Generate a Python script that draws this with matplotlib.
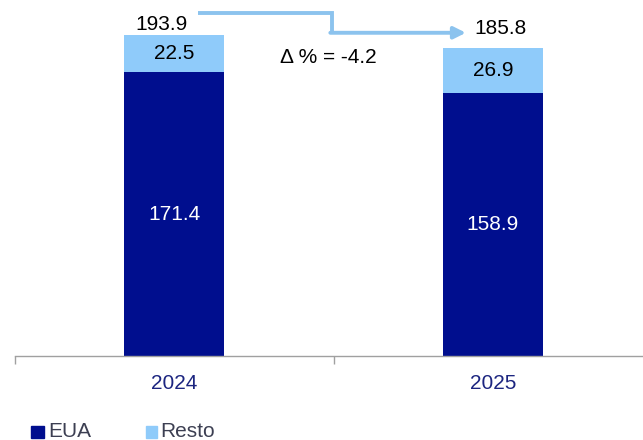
import matplotlib
matplotlib.use("Agg")
import matplotlib.pyplot as plt
from matplotlib.patches import Rectangle

years = ["2024", "2025"]
eua = [171.4, 158.9]
resto = [22.5, 26.9]
totals = [193.9, 185.8]
delta_label = "Δ % = -4.2"
series_names = ["EUA", "Resto"]

C_EUA = "#000E8E"
C_RESTO = "#8FCBFA"
C_ARROW = "#8CC3EE"
C_TICK = "#1C2580"
C_LEG = "#3C3F52"
FS = 15

plt.rcParams["font.family"] = ["Liberation Sans", "DejaVu Sans"]

W, H = 643, 440
fig = plt.figure(figsize=(W / 100, H / 100), dpi=100)
ax = fig.add_axes([14.5 / W, 84 / H, 638 / W, 356 / H])
ax.set_xlim(-0.5, 1.5)
ax.set_ylim(0, 215)

x = list(range(len(years)))
w = 0.313
ax.bar(x, eua, width=w, color=C_EUA)
ax.bar(x, resto, width=w, bottom=eua, color=C_RESTO)

for xi, e, r in zip(x, eua, resto):
    ax.text(xi, e / 2, f"{e:.1f}", color="white", ha="center", va="center", fontsize=FS)
    ax.text(xi, e + r / 2, f"{r:.1f}", color="black", ha="center", va="center", fontsize=FS)

# total labels
ax.text(x[0] - 0.038, totals[0] + 6.5, f"{totals[0]:.1f}", ha="center", va="center", fontsize=FS)
ax.text(x[1] + 0.022, totals[1] + 12, f"{totals[1]:.1f}", ha="center", va="center", fontsize=FS)

# step arrow between totals
y_hi = totals[0] + 13.4
y_lo = totals[1] + 9.4
ax.plot([x[0] + 0.075, 0.495, 0.495], [y_hi, y_hi, y_lo], color=C_ARROW, lw=2.8,
        solid_joinstyle="miter", solid_capstyle="butt", clip_on=False)
ax.annotate("", xy=(0.915, y_lo), xytext=(0.49, y_lo),
            arrowprops=dict(arrowstyle="-|>,head_length=0.7,head_width=0.35",
                            color=C_ARROW, lw=2.8, shrinkA=0, shrinkB=0))

ax.text(0.483, 180, delta_label, ha="center", va="center", fontsize=FS)

# axis styling
for s in ["top", "right", "left"]:
    ax.spines[s].set_visible(False)
ax.spines["bottom"].set_color("#A0A0A0")
ax.spines["bottom"].set_linewidth(1.0)
ax.set_yticks([])
ax.set_xticks([-0.5, 0.5, 1.5])
ax.set_xticklabels([])
ax.tick_params(axis="x", which="major", length=6, color="#A0A0A0", width=1.0)
ax.set_xticks(x, minor=True)
ax.set_xticklabels(years, minor=True, color=C_TICK, fontsize=FS)
ax.tick_params(axis="x", which="minor", length=0, pad=13)

# legend: square swatches followed by names
leg_items = [(31, 13, 48, C_EUA), (146, 11, 160, C_RESTO)]
for (sx, sw, tx, col), name in zip(leg_items, series_names):
    fig.add_artist(Rectangle((sx / W, (H - 438) / H), sw / W, 12 / H,
                             transform=fig.transFigure, color=col))
    fig.text(tx / W, (H - 431) / H, name, color=C_LEG, fontsize=FS,
             ha="left", va="center")

fig.savefig("out.png", dpi=100)
